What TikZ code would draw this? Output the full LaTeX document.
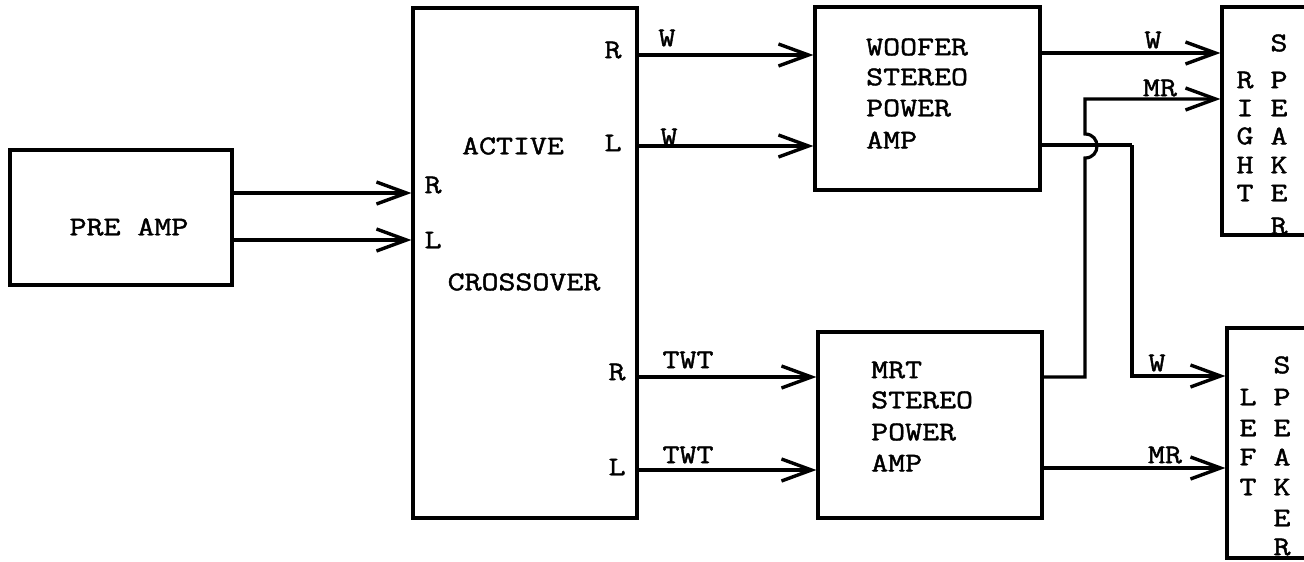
\documentclass[tikz,border=0pt]{standalone}
\usepackage{fontspec}
\newfontfamily\tw[FakeStretch=1.22,FakeBold=1.6]{Latin Modern Mono}
\usetikzlibrary{arrows.meta}
\begin{document}
\begin{tikzpicture}[x=1pt,y=-1pt,
  box/.style={draw, line width=3.2pt, rectangle, inner sep=0pt},
  sig/.style={draw, line width=3.2pt, -{Straight Barb[length=30pt,width=22pt,line width=3.4pt]}},
  wire/.style={draw, line width=3.2pt},
  txt/.style={font=\tw\fontsize{27}{28}\selectfont, inner sep=0pt},
  ltxt/.style={txt, anchor=west}]
\clip (0,0) rectangle (1304,562);
\fill[white] (0,0) rectangle (1304,562);

% boxes
\node[box, minimum width=222pt, minimum height=135pt] (pre) at (121,217.5) {};
\node[box, minimum width=224pt, minimum height=510pt] (xo) at (525,263) {};
\node[box, minimum width=225pt, minimum height=183pt] (wf) at (927.5,98.5) {};
\node[box, minimum width=224pt, minimum height=186pt] (mrt) at (930,425) {};
\node[box, minimum width=120pt, minimum height=228pt] (rs) at (1282,121) {};
\node[box, minimum width=120pt, minimum height=230pt] (ls) at (1287,443) {};

% box texts
\node[txt] (pret) at (129,227) {PRE AMP};
\node[txt] (act) at (513,146) {ACTIVE};
\node[txt] (cro) at (524,282) {CROSSOVER};
\node[txt] (xir) at (433,185) {R};
\node[txt] (xil) at (433,240) {L};
\node[txt] (xor1) at (613,50) {R};
\node[txt] (xol1) at (613,143) {L};
\node[txt] (xor2) at (617,372) {R};
\node[txt] (xol2) at (617,467) {L};

\node[ltxt] (wf1) at (866,47) {WOOFER};
\node[ltxt] (wf2) at (866,77) {STEREO};
\node[ltxt] (wf3) at (866,108) {POWER};
\node[ltxt] (wf4) at (866,140) {AMP};

\node[ltxt] (mr1) at (871,370) {MRT};
\node[ltxt] (mr2) at (871,400) {STEREO};
\node[ltxt] (mr3) at (871,432) {POWER};
\node[ltxt] (mr4) at (871,463) {AMP};

% right speaker letters
\node[txt] (rr1) at (1245,80) {R};
\node[txt] (rr2) at (1245,108) {I};
\node[txt] (rr3) at (1245,136) {G};
\node[txt] (rr4) at (1245,165) {H};
\node[txt] (rr5) at (1245,193) {T};
\node[txt] (rs1) at (1279,43) {S};
\node[txt] (rs2) at (1279,80) {P};
\node[txt] (rs3) at (1279,108) {E};
\node[txt] (rs4) at (1279,136) {A};
\node[txt] (rs5) at (1279,165) {K};
\node[txt] (rs6) at (1279,193) {E};
\node[txt] (rs7) at (1279,226) {R};

% left speaker letters
\node[txt] (ll1) at (1248,397) {L};
\node[txt] (ll2) at (1248,428) {E};
\node[txt] (ll3) at (1248,457) {F};
\node[txt] (ll4) at (1248,487) {T};
\node[txt] (ls1) at (1282,365) {S};
\node[txt] (ls2) at (1282,397) {P};
\node[txt] (ls3) at (1282,428) {E};
\node[txt] (ls4) at (1282,457) {A};
\node[txt] (ls5) at (1282,487) {K};
\node[txt] (ls6) at (1282,518) {E};
\node[txt] (ls7) at (1282,547) {R};

% preamp to crossover
\draw[sig] (pre.east |- 0,193) -- (xo.west |- 0,193);
\draw[sig] (pre.east |- 0,240) -- (xo.west |- 0,240);

% crossover to amps
\draw[sig] (xo.east |- 0,55) -- (wf.west |- 0,55);
\node[txt] (lw1) at (667,38) {W};
\draw[sig] (xo.east |- 0,146) -- (wf.west |- 0,146);
\node[txt] (lw2) at (669,137) {W};
\draw[sig] (xo.east |- 0,377) -- (mrt.west |- 0,377);
\node[txt] (lt1) at (688,360) {TWT};
\draw[sig] (xo.east |- 0,470) -- (mrt.west |- 0,470);
\node[txt] (lt2) at (688,455) {TWT};

% woofer outputs
\draw[sig] (wf.east |- 0,53) -- (rs.west |- 0,53);
\node[txt] (lw3) at (1153,40) {W};
\coordinate (wdn) at (1132,145);
\draw[wire] (wf.east |- 0,145) -- (wdn);
\draw[sig] (wdn) -- (wdn |- 0,376) -- (ls.west |- 0,376);
\node[txt] (lw4) at (1157,363) {W};

% MRT outputs
\coordinate (mup) at (1085,377);
\draw[sig] (mrt.east |- 0,377) -- (mup) -- (1085,158)
   .. controls (1101,158) and (1101,134) .. (1085,134)
   -- (1085,99) -- (rs.west |- 0,99);
\node[txt] (lm1) at (1160,88) {MR};
\draw[sig] (mrt.east |- 0,468) -- (ls.west |- 0,468);
\node[txt] (lm2) at (1165,455) {MR};
\end{tikzpicture}
\end{document}
